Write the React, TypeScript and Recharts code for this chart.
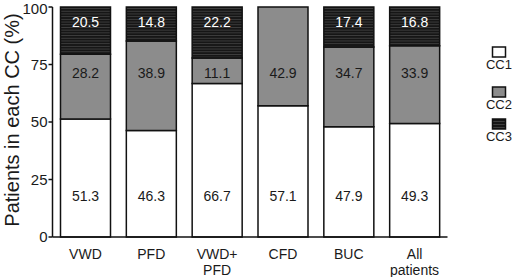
import React from 'react';
import { BarChart, Bar, XAxis, YAxis, LabelList, Legend } from 'recharts';

const categories = ['VWD', 'PFD', 'VWD+\nPFD', 'CFD', 'BUC', 'All\npatients'];
const cc1 = [51.3, 46.3, 66.7, 57.1, 47.9, 49.3];
const cc2 = [28.2, 38.9, 11.1, 42.9, 34.7, 33.9];
const cc3 = [20.5, 14.8, 22.2, 0, 17.4, 16.8];
const yTicks = [0, 25, 50, 75, 100];
const seriesNames = ['CC1', 'CC2', 'CC3'];
const labelLevels = [18, 71.5, 93.6];

const data = categories.map((c, i) => ({ name: c, CC1: cc1[i], CC2: cc2[i], CC3: cc3[i] }));

const FONT = '"Liberation Sans", Arial, sans-serif';
const W = 520;
const H = 277;
const M = { top: 7, right: 72.5, bottom: 0, left: 12.5 };
const XH = 40;
const PLOT_TOP = M.top;
const PLOT_H = H - M.top - M.bottom - XH;

const fills = ['#ffffff', '#8c8c8c', 'url(#cc3stripes)'];
const textColors = ['#1a1a1a', '#1a1a1a', '#ffffff'];

const makeLabel = (idx: number) => (props: any) => {
  const { x, width, value } = props;
  if (!value) return null;
  const y = PLOT_TOP + PLOT_H * (1 - labelLevels[idx] / 100);
  return (
    <text x={x + width / 2} y={y} textAnchor="middle" dominantBaseline="central" fontSize={14} fontFamily={FONT} fill={textColors[idx]}>
      {value.toFixed(1)}
    </text>
  );
};

const XTick = (props: any) => {
  const { x, y, payload } = props;
  const lines = String(payload.value).split('\n');
  return (
    <g>
      {lines.map((l: string, i: number) => (
        <text key={i} x={x} y={y + 14 + i * 15.6} textAnchor="middle" fontSize={14} fontFamily={FONT} fill="#1a1a1a">
          {l}
        </text>
      ))}
    </g>
  );
};

const YLabel = () => (
  <text x={12} y={120} transform="rotate(-90 12 120)" textAnchor="middle" dominantBaseline="central" fontSize={20} fontFamily={FONT} fill="#1a1a1a">
    Patients in each CC (%)
  </text>
);

const LegendContent = (props: any) => {
  const payload = props.payload || [];
  const tops = [0, 40, 72];
  return (
    <div style={{ position: 'relative', width: 30, height: 110 }}>
      {payload.map((p: any, i: number) => (
        <div key={i} style={{ position: 'absolute', left: 0, top: tops[i], width: 30, textAlign: 'center' }}>
          <svg width={30} height={12} style={{ display: 'block' }}>
            <defs>
              <pattern id={`lg${i}`} width={4} height={3} patternUnits="userSpaceOnUse">
                <rect width={4} height={3} fill="#161616" />
                <rect width={4} height={1} fill="#3e3e3e" />
              </pattern>
            </defs>
            <rect x={8.5} y={1} width={13} height={10} fill={i === 2 ? `url(#lg${i})` : fills[i]} stroke="#111" strokeWidth={1.5} />
          </svg>
          <div style={{ fontFamily: FONT, fontSize: 13, lineHeight: '13px', color: '#1a1a1a', marginTop: 0 }}>{p.value}</div>
        </div>
      ))}
    </div>
  );
};

export default function App() {
  return (
    <div style={{ position: 'absolute', left: 0, top: 0, width: W, height: H, background: '#fff' }}>
      <BarChart width={W} height={H} data={data} margin={M} barSize={50}>
        <defs>
          <pattern id="cc3stripes" width={4} height={2.7} patternUnits="userSpaceOnUse">
            <rect width={4} height={2.7} fill="#161616" />
            <rect width={4} height={0.9} fill="#3e3e3e" />
          </pattern>
        </defs>
        <XAxis
          dataKey="name"
          height={XH}
          tick={<XTick />}
          tickLine={false}
          axisLine={{ stroke: '#111', strokeWidth: 1.5 }}
          interval={0}
        />
        <YAxis
          domain={[0, 100]}
          ticks={yTicks}
          width={40}
          tickSize={4}
          tickMargin={1}
          axisLine={{ stroke: '#111', strokeWidth: 1.5 }}
          tickLine={{ stroke: '#111', strokeWidth: 1.5 }}
          tick={{ fontSize: 15, fontFamily: FONT, fill: '#1a1a1a' }}
          label={<YLabel />}
        />
        <Legend
          layout="horizontal"
          verticalAlign="middle"
          align="center"
          content={<LegendContent />}
          wrapperStyle={{ left: 484, top: 46, width: 30 }}
        />
        {seriesNames.map((s, i) => (
          <Bar key={s} dataKey={s} name={s} stackId="a" fill={fills[i]} stroke="#111" strokeWidth={1.5} isAnimationActive={false}>
            <LabelList dataKey={s} content={makeLabel(i)} />
          </Bar>
        ))}
      </BarChart>
    </div>
  );
}
